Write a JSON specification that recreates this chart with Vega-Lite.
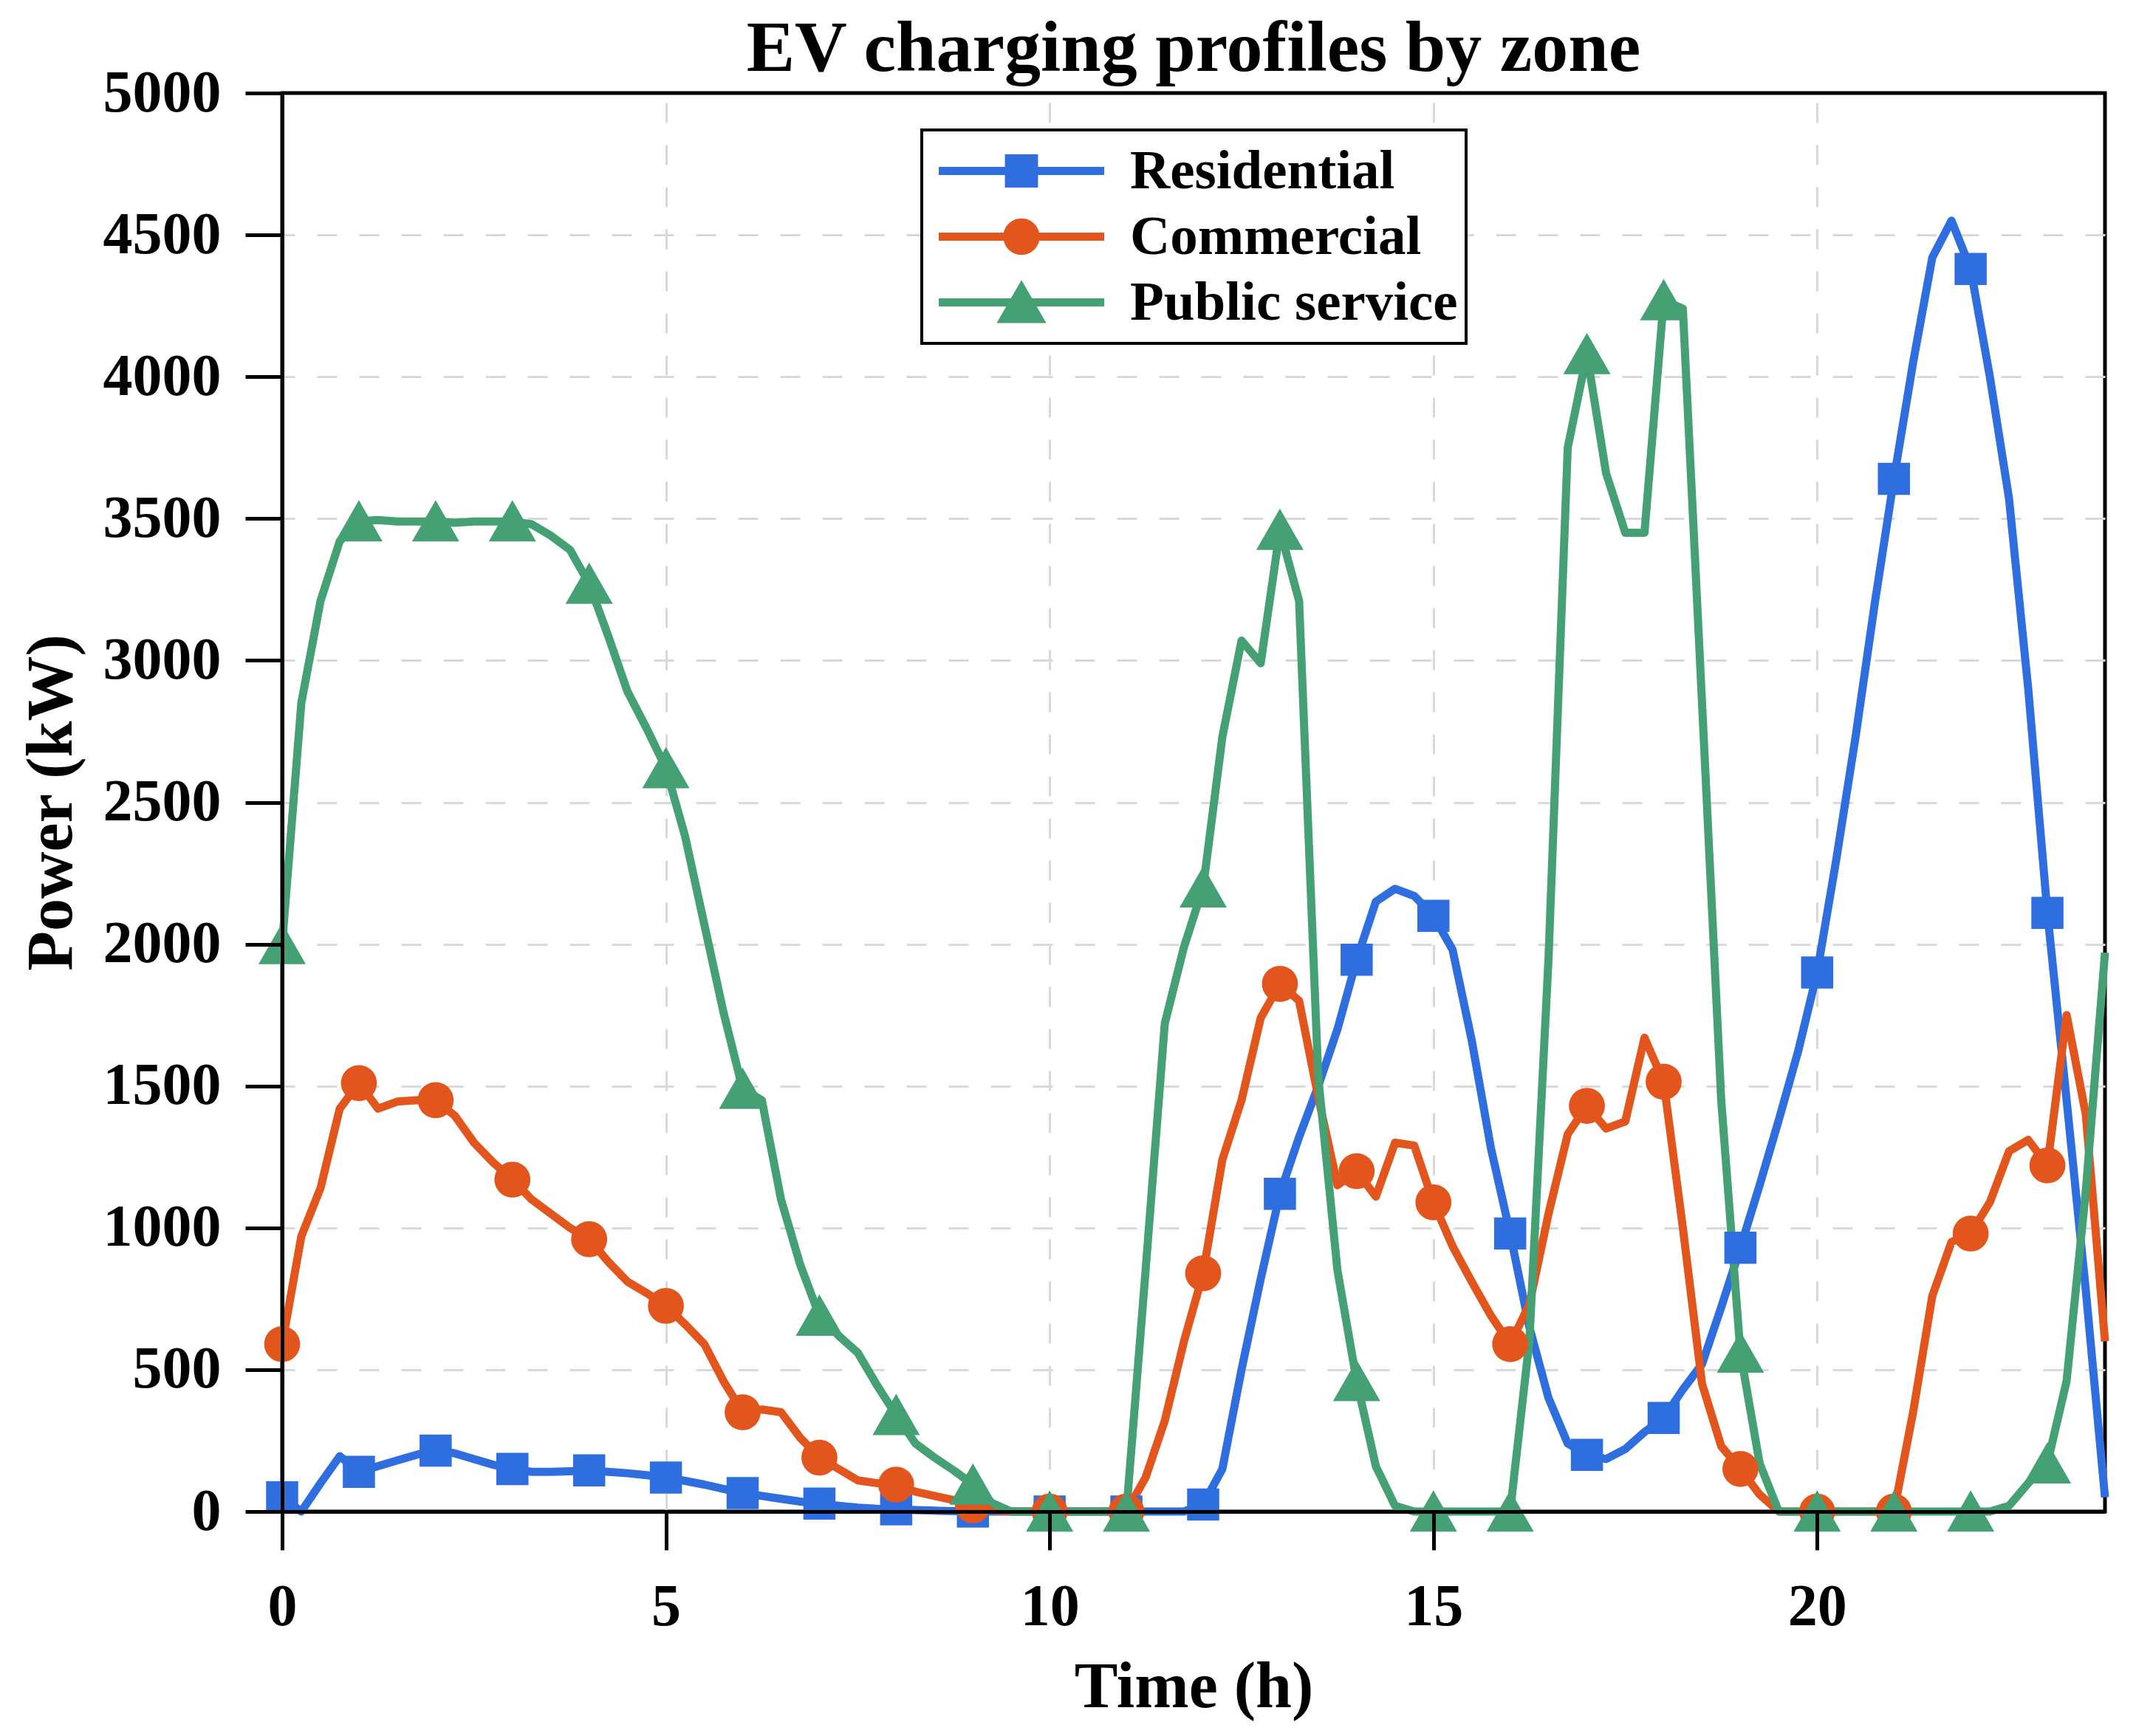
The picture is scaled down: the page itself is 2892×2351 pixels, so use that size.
{
  "$schema": "https://vega.github.io/schema/vega-lite/v6.json",
  "width": 2468,
  "height": 1921,
  "autosize": {"type": "none"},
  "padding": {"left": 382, "top": 126, "right": 42, "bottom": 304},
  "background": "white",
  "title": {"text": "EV charging profiles by zone", "font": "Liberation Serif", "fontSize": 98, "fontWeight": "bold", "color": "black", "anchor": "middle", "offset": -31},
  "datasets": {
    "profiles": [
      {"t":0,"s":"Residential","p":50},{"t":0.25,"s":"Residential","p":0},{"t":0.5,"s":"Residential","p":100},{"t":0.75,"s":"Residential","p":195},
      {"t":1,"s":"Residential","p":140},{"t":1.25,"s":"Residential","p":160},{"t":1.5,"s":"Residential","p":180},{"t":1.75,"s":"Residential","p":200},
      {"t":2,"s":"Residential","p":215},{"t":2.25,"s":"Residential","p":205},{"t":2.5,"s":"Residential","p":185},{"t":2.75,"s":"Residential","p":165},
      {"t":3,"s":"Residential","p":150},{"t":3.25,"s":"Residential","p":140},{"t":3.5,"s":"Residential","p":140},{"t":3.75,"s":"Residential","p":142},
      {"t":4,"s":"Residential","p":145},{"t":4.25,"s":"Residential","p":140},{"t":4.5,"s":"Residential","p":135},{"t":4.75,"s":"Residential","p":128},
      {"t":5,"s":"Residential","p":120},{"t":5.25,"s":"Residential","p":108},{"t":5.5,"s":"Residential","p":95},{"t":5.75,"s":"Residential","p":80},
      {"t":6,"s":"Residential","p":65},{"t":6.25,"s":"Residential","p":55},{"t":6.5,"s":"Residential","p":45},{"t":6.75,"s":"Residential","p":35},
      {"t":7,"s":"Residential","p":28},{"t":7.25,"s":"Residential","p":20},{"t":7.5,"s":"Residential","p":14},{"t":7.75,"s":"Residential","p":10},
      {"t":8,"s":"Residential","p":8},{"t":8.25,"s":"Residential","p":5},{"t":8.5,"s":"Residential","p":3},{"t":8.75,"s":"Residential","p":1},
      {"t":9,"s":"Residential","p":0},{"t":9.25,"s":"Residential","p":0},{"t":9.5,"s":"Residential","p":0},{"t":9.75,"s":"Residential","p":0},
      {"t":10,"s":"Residential","p":0},{"t":10.25,"s":"Residential","p":0},{"t":10.5,"s":"Residential","p":0},{"t":10.75,"s":"Residential","p":0},
      {"t":11,"s":"Residential","p":0},{"t":11.25,"s":"Residential","p":0},{"t":11.5,"s":"Residential","p":0},{"t":11.75,"s":"Residential","p":0},
      {"t":12,"s":"Residential","p":25},{"t":12.25,"s":"Residential","p":150},{"t":12.5,"s":"Residential","p":500},{"t":12.75,"s":"Residential","p":820},
      {"t":13,"s":"Residential","p":1120},{"t":13.25,"s":"Residential","p":1320},{"t":13.5,"s":"Residential","p":1500},{"t":13.75,"s":"Residential","p":1700},
      {"t":14,"s":"Residential","p":1945},{"t":14.25,"s":"Residential","p":2150},{"t":14.5,"s":"Residential","p":2195},{"t":14.75,"s":"Residential","p":2170},
      {"t":15,"s":"Residential","p":2100},{"t":15.25,"s":"Residential","p":1980},{"t":15.5,"s":"Residential","p":1660},{"t":15.75,"s":"Residential","p":1280},
      {"t":16,"s":"Residential","p":980},{"t":16.25,"s":"Residential","p":650},{"t":16.5,"s":"Residential","p":400},{"t":16.75,"s":"Residential","p":240},
      {"t":17,"s":"Residential","p":200},{"t":17.25,"s":"Residential","p":185},{"t":17.5,"s":"Residential","p":220},{"t":17.75,"s":"Residential","p":280},
      {"t":18,"s":"Residential","p":330},{"t":18.25,"s":"Residential","p":430},{"t":18.5,"s":"Residential","p":520},{"t":18.75,"s":"Residential","p":720},
      {"t":19,"s":"Residential","p":930},{"t":19.25,"s":"Residential","p":1150},{"t":19.5,"s":"Residential","p":1380},{"t":19.75,"s":"Residential","p":1620},
      {"t":20,"s":"Residential","p":1900},{"t":20.25,"s":"Residential","p":2300},{"t":20.5,"s":"Residential","p":2730},{"t":20.75,"s":"Residential","p":3200},
      {"t":21,"s":"Residential","p":3640},{"t":21.25,"s":"Residential","p":4050},{"t":21.5,"s":"Residential","p":4420},{"t":21.75,"s":"Residential","p":4550},
      {"t":22,"s":"Residential","p":4380},{"t":22.25,"s":"Residential","p":4000},{"t":22.5,"s":"Residential","p":3570},{"t":22.75,"s":"Residential","p":2900},
      {"t":23,"s":"Residential","p":2110},{"t":23.25,"s":"Residential","p":1450},{"t":23.5,"s":"Residential","p":780},{"t":23.75,"s":"Residential","p":50},

      {"t":0,"s":"Commercial","p":590},{"t":0.25,"s":"Commercial","p":970},{"t":0.5,"s":"Commercial","p":1140},{"t":0.75,"s":"Commercial","p":1420},
      {"t":1,"s":"Commercial","p":1510},{"t":1.25,"s":"Commercial","p":1420},{"t":1.5,"s":"Commercial","p":1445},{"t":1.75,"s":"Commercial","p":1450},
      {"t":2,"s":"Commercial","p":1450},{"t":2.25,"s":"Commercial","p":1395},{"t":2.5,"s":"Commercial","p":1300},{"t":2.75,"s":"Commercial","p":1230},
      {"t":3,"s":"Commercial","p":1170},{"t":3.25,"s":"Commercial","p":1100},{"t":3.5,"s":"Commercial","p":1050},{"t":3.75,"s":"Commercial","p":1000},
      {"t":4,"s":"Commercial","p":960},{"t":4.25,"s":"Commercial","p":880},{"t":4.5,"s":"Commercial","p":810},{"t":4.75,"s":"Commercial","p":770},
      {"t":5,"s":"Commercial","p":725},{"t":5.25,"s":"Commercial","p":660},{"t":5.5,"s":"Commercial","p":590},{"t":5.75,"s":"Commercial","p":460},
      {"t":6,"s":"Commercial","p":350},{"t":6.25,"s":"Commercial","p":360},{"t":6.5,"s":"Commercial","p":350},{"t":6.75,"s":"Commercial","p":260},
      {"t":7,"s":"Commercial","p":190},{"t":7.25,"s":"Commercial","p":150},{"t":7.5,"s":"Commercial","p":110},{"t":7.75,"s":"Commercial","p":100},
      {"t":8,"s":"Commercial","p":95},{"t":8.25,"s":"Commercial","p":70},{"t":8.5,"s":"Commercial","p":55},{"t":8.75,"s":"Commercial","p":40},
      {"t":9,"s":"Commercial","p":22},{"t":9.25,"s":"Commercial","p":5},{"t":9.5,"s":"Commercial","p":0},{"t":9.75,"s":"Commercial","p":0},
      {"t":10,"s":"Commercial","p":0},{"t":10.25,"s":"Commercial","p":0},{"t":10.5,"s":"Commercial","p":0},{"t":10.75,"s":"Commercial","p":0},
      {"t":11,"s":"Commercial","p":0},{"t":11.25,"s":"Commercial","p":120},{"t":11.5,"s":"Commercial","p":320},{"t":11.75,"s":"Commercial","p":600},
      {"t":12,"s":"Commercial","p":840},{"t":12.25,"s":"Commercial","p":1240},{"t":12.5,"s":"Commercial","p":1450},{"t":12.75,"s":"Commercial","p":1740},
      {"t":13,"s":"Commercial","p":1860},{"t":13.25,"s":"Commercial","p":1800},{"t":13.5,"s":"Commercial","p":1460},{"t":13.75,"s":"Commercial","p":1150},
      {"t":14,"s":"Commercial","p":1200},{"t":14.25,"s":"Commercial","p":1110},{"t":14.5,"s":"Commercial","p":1300},{"t":14.75,"s":"Commercial","p":1290},
      {"t":15,"s":"Commercial","p":1090},{"t":15.25,"s":"Commercial","p":935},{"t":15.5,"s":"Commercial","p":810},{"t":15.75,"s":"Commercial","p":690},
      {"t":16,"s":"Commercial","p":590},{"t":16.25,"s":"Commercial","p":730},{"t":16.5,"s":"Commercial","p":1050},{"t":16.75,"s":"Commercial","p":1330},
      {"t":17,"s":"Commercial","p":1430},{"t":17.25,"s":"Commercial","p":1350},{"t":17.5,"s":"Commercial","p":1375},{"t":17.75,"s":"Commercial","p":1670},
      {"t":18,"s":"Commercial","p":1515},{"t":18.25,"s":"Commercial","p":1000},{"t":18.5,"s":"Commercial","p":450},{"t":18.75,"s":"Commercial","p":230},
      {"t":19,"s":"Commercial","p":150},{"t":19.25,"s":"Commercial","p":60},{"t":19.5,"s":"Commercial","p":0},{"t":19.75,"s":"Commercial","p":0},
      {"t":20,"s":"Commercial","p":0},{"t":20.25,"s":"Commercial","p":0},{"t":20.5,"s":"Commercial","p":0},{"t":20.75,"s":"Commercial","p":0},
      {"t":21,"s":"Commercial","p":0},{"t":21.25,"s":"Commercial","p":350},{"t":21.5,"s":"Commercial","p":760},{"t":21.75,"s":"Commercial","p":950},
      {"t":22,"s":"Commercial","p":980},{"t":22.25,"s":"Commercial","p":1090},{"t":22.5,"s":"Commercial","p":1270},{"t":22.75,"s":"Commercial","p":1310},
      {"t":23,"s":"Commercial","p":1220},{"t":23.25,"s":"Commercial","p":1750},{"t":23.5,"s":"Commercial","p":1400},{"t":23.75,"s":"Commercial","p":600},

      {"t":0,"s":"Public service","p":2000},{"t":0.25,"s":"Public service","p":2850},{"t":0.5,"s":"Public service","p":3210},{"t":0.75,"s":"Public service","p":3420},
      {"t":1,"s":"Public service","p":3490},{"t":1.25,"s":"Public service","p":3495},{"t":1.5,"s":"Public service","p":3490},{"t":1.75,"s":"Public service","p":3490},
      {"t":2,"s":"Public service","p":3490},{"t":2.25,"s":"Public service","p":3485},{"t":2.5,"s":"Public service","p":3490},{"t":2.75,"s":"Public service","p":3490},
      {"t":3,"s":"Public service","p":3490},{"t":3.25,"s":"Public service","p":3480},{"t":3.5,"s":"Public service","p":3440},{"t":3.75,"s":"Public service","p":3390},
      {"t":4,"s":"Public service","p":3270},{"t":4.25,"s":"Public service","p":3085},{"t":4.5,"s":"Public service","p":2890},{"t":4.75,"s":"Public service","p":2760},
      {"t":5,"s":"Public service","p":2620},{"t":5.25,"s":"Public service","p":2380},{"t":5.5,"s":"Public service","p":2070},{"t":5.75,"s":"Public service","p":1760},
      {"t":6,"s":"Public service","p":1490},{"t":6.25,"s":"Public service","p":1450},{"t":6.5,"s":"Public service","p":1100},{"t":6.75,"s":"Public service","p":870},
      {"t":7,"s":"Public service","p":690},{"t":7.25,"s":"Public service","p":620},{"t":7.5,"s":"Public service","p":560},{"t":7.75,"s":"Public service","p":445},
      {"t":8,"s":"Public service","p":340},{"t":8.25,"s":"Public service","p":240},{"t":8.5,"s":"Public service","p":190},{"t":8.75,"s":"Public service","p":145},
      {"t":9,"s":"Public service","p":95},{"t":9.25,"s":"Public service","p":30},{"t":9.5,"s":"Public service","p":0},{"t":9.75,"s":"Public service","p":0},
      {"t":10,"s":"Public service","p":0},{"t":10.25,"s":"Public service","p":0},{"t":10.5,"s":"Public service","p":0},{"t":10.75,"s":"Public service","p":0},
      {"t":11,"s":"Public service","p":0},{"t":11.25,"s":"Public service","p":850},{"t":11.5,"s":"Public service","p":1720},{"t":11.75,"s":"Public service","p":1990},
      {"t":12,"s":"Public service","p":2200},{"t":12.25,"s":"Public service","p":2730},{"t":12.5,"s":"Public service","p":3070},{"t":12.75,"s":"Public service","p":2990},
      {"t":13,"s":"Public service","p":3460},{"t":13.25,"s":"Public service","p":3210},{"t":13.5,"s":"Public service","p":1530},{"t":13.75,"s":"Public service","p":850},
      {"t":14,"s":"Public service","p":460},{"t":14.25,"s":"Public service","p":160},{"t":14.5,"s":"Public service","p":20},{"t":14.75,"s":"Public service","p":0},
      {"t":15,"s":"Public service","p":0},{"t":15.25,"s":"Public service","p":0},{"t":15.5,"s":"Public service","p":0},{"t":15.75,"s":"Public service","p":0},
      {"t":16,"s":"Public service","p":0},{"t":16.25,"s":"Public service","p":600},{"t":16.5,"s":"Public service","p":1950},{"t":16.75,"s":"Public service","p":3750},
      {"t":17,"s":"Public service","p":4080},{"t":17.25,"s":"Public service","p":3660},{"t":17.5,"s":"Public service","p":3450},{"t":17.75,"s":"Public service","p":3450},
      {"t":18,"s":"Public service","p":4270},{"t":18.25,"s":"Public service","p":4240},{"t":18.5,"s":"Public service","p":2850},{"t":18.75,"s":"Public service","p":1450},
      {"t":19,"s":"Public service","p":560},{"t":19.25,"s":"Public service","p":170},{"t":19.5,"s":"Public service","p":0},{"t":19.75,"s":"Public service","p":0},
      {"t":20,"s":"Public service","p":0},{"t":20.25,"s":"Public service","p":0},{"t":20.5,"s":"Public service","p":0},{"t":20.75,"s":"Public service","p":0},
      {"t":21,"s":"Public service","p":0},{"t":21.25,"s":"Public service","p":0},{"t":21.5,"s":"Public service","p":0},{"t":21.75,"s":"Public service","p":0},
      {"t":22,"s":"Public service","p":0},{"t":22.25,"s":"Public service","p":0},{"t":22.5,"s":"Public service","p":20},{"t":22.75,"s":"Public service","p":100},
      {"t":23,"s":"Public service","p":170},{"t":23.25,"s":"Public service","p":460},{"t":23.5,"s":"Public service","p":1130},{"t":23.75,"s":"Public service","p":1970}
    ]
  },
  "data": {"name": "profiles"},
  "layer": [
    {
      "transform": [{"filter": "datum.t == 0"}],
      "mark": {"type": "point", "filled": true, "opacity": 1, "size": 50176, "strokeWidth": 0, "clip": true},
      "encoding": {
        "x": {"field": "t", "type": "quantitative", "scale": {"domain": [0, 23.75], "nice": false, "zero": false},
              "axis": {"orient": "top", "values": [5, 10, 15, 20], "grid": true, "labels": false, "ticks": false, "domain": false, "title": null, "zindex": 0}},
        "y": {"datum": -3000, "type": "quantitative", "scale": {"domain": [0, 5000], "nice": false},
              "axis": {"orient": "right", "values": [500, 1000, 1500, 2000, 2500, 3000, 3500, 4000, 4500], "grid": true, "labels": false, "ticks": false, "domain": false, "title": null, "zindex": 0}},
        "color": {"field": "s", "type": "nominal",
                  "scale": {"domain": ["Residential", "Commercial", "Public service"], "range": ["#2F6EDE", "#E2561E", "#45A073"]},
                  "legend": {"title": null, "orient": "none", "legendX": 866, "legendY": 50, "zindex": 2}},
        "shape": {"field": "s", "type": "nominal",
                  "scale": {"domain": ["Residential", "Commercial", "Public service"],
                            "range": ["M-1,-0.05H1V0.05H-1ZM-0.2,-0.2H0.2V0.2H-0.2Z",
                                      "M-1,-0.05H1V0.05H-1ZM0.22,0A0.22,0.22 0 1,1 -0.22,0A0.22,0.22 0 1,1 0.22,0Z",
                                      "M-1,-0.05H1V0.05H-1ZM0,-0.27L0.3,0.25L-0.3,0.25Z"]},
                  "legend": {"title": null, "orient": "none", "legendX": 866, "legendY": 50, "zindex": 2}}
      }
    },
    {
      "mark": {"type": "line", "strokeWidth": 11, "strokeJoin": "round", "interpolate": "linear"},
      "encoding": {
        "x": {"field": "t", "type": "quantitative", "scale": {"domain": [0, 23.75], "nice": false, "zero": false},
              "axis": {"orient": "bottom", "values": [0, 5, 10, 15, 20], "title": "Time (h)", "format": "d", "grid": false, "ticks": true, "tickSize": 52, "tickWidth": 5, "tickColor": "#000000", "tickOpacity": 1, "zindex": 1, "labelFlush": false, "labelPadding": 38, "titlePadding": 25}},
        "y": {"field": "p", "type": "quantitative", "scale": {"domain": [0, 5000], "nice": false},
              "axis": {"orient": "left", "values": [0, 500, 1000, 1500, 2000, 2500, 3000, 3500, 4000, 4500, 5000], "title": "Power (kW)", "format": "d", "grid": false, "ticks": true, "tickSize": 50, "tickWidth": 5, "tickColor": "#000000", "tickOpacity": 1, "zindex": 1, "labelFlush": false, "labelPadding": 33, "titlePadding": 68}},
        "color": {"field": "s", "type": "nominal", "legend": null,
                  "scale": {"domain": ["Residential", "Commercial", "Public service"], "range": ["#2F6EDE", "#E2561E", "#45A073"]}},
        "detail": {"field": "s"}
      }
    },
    {
      "transform": [{"filter": "datum.t % 1 == 0"}],
      "mark": {"type": "point", "filled": true, "opacity": 1, "size": 4096, "strokeWidth": 0},
      "encoding": {
        "x": {"field": "t", "type": "quantitative", "axis": null},
        "y": {"field": "p", "type": "quantitative", "axis": null},
        "color": {"field": "s", "type": "nominal", "legend": null,
                  "scale": {"domain": ["Residential", "Commercial", "Public service"], "range": ["#2F6EDE", "#E2561E", "#45A073"]}},
        "shape": {"field": "s", "type": "nominal", "legend": null,
                  "scale": {"domain": ["Residential", "Commercial", "Public service"],
                            "range": ["M-0.68,-0.68H0.68V0.68H-0.68Z",
                                      "M0.76,0A0.76,0.76 0 1,1 -0.76,0A0.76,0.76 0 1,1 0.76,0Z",
                                      "M0,-0.9L1,0.85L-1,0.85Z"]}}
      }
    }
  ],
  "resolve": {"scale": {"color": "independent", "shape": "independent"},
              "axis": {"x": "independent", "y": "independent"},
              "legend": {"color": "independent", "shape": "independent"}},
  "config": {
    "view": {"stroke": "black", "strokeWidth": 5},
    "axis": {"domainColor": "black", "domainWidth": 5, "tickColor": "black", "tickWidth": 5, "tickSize": 50,
             "labelFont": "Liberation Serif", "labelFontWeight": "bold", "labelFontSize": 80, "labelColor": "black",
             "titleFont": "Liberation Serif", "titleFontWeight": "bold", "titleFontSize": 88, "titleColor": "black",
             "gridColor": "#d9d9d9", "gridWidth": 3, "gridDash": [27, 30]},
    "legend": {"labelFont": "Liberation Serif", "labelFontWeight": "bold", "labelFontSize": 75, "labelColor": "black",
               "labelOffset": 35, "symbolOffset": 12, "symbolSize": 50176, "clipHeight": 89, "rowPadding": 0,
               "padding": 11, "strokeColor": "black", "strokeWidth": 4, "fillColor": "white", "symbolStrokeWidth": 0,
               "labelLimit": 1000}
  }
}
